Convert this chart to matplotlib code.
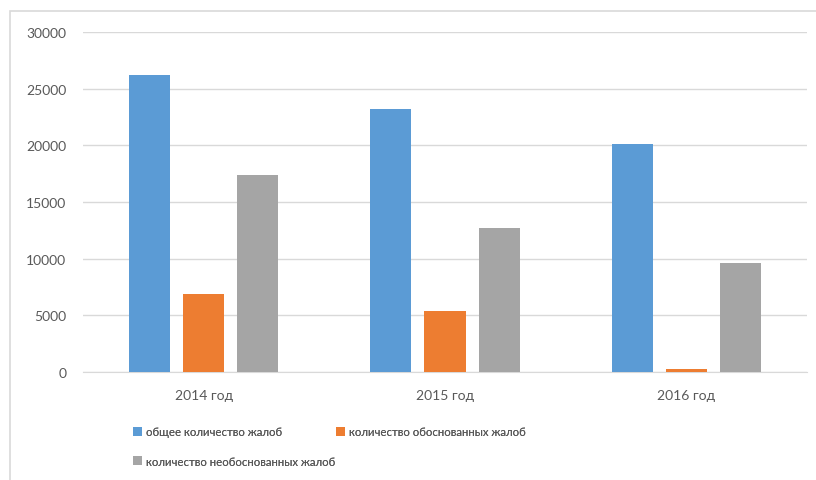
import numpy as np
import matplotlib.pyplot as plt
from matplotlib.patches import Rectangle

plt.rcParams['font.family'] = ['Lato', 'DejaVu Sans']

years = ['2014 год', '2015 год', '2016 год']
series_names = ['общее количество жалоб',
                'количество обоснованных жалоб',
                'количество необоснованных жалоб']
total = [26200, 23200, 20100]
grounded = [6900, 5400, 300]
ungrounded = [17400, 12700, 9600]
colors = ['#5b9bd5', '#ed7d31', '#a5a5a5']
yticks = [0, 5000, 10000, 15000, 20000, 25000, 30000]

fig = plt.figure(figsize=(8.16, 4.81), dpi=100)
ax = fig.add_axes([83 / 816, 1 - 373 / 481, 724 / 816, 340 / 481])

# outer chart border (top and left visible)
fig.patches.append(Rectangle((10 / 816, -0.1), 1.2, 1 - 12 / 481 + 0.1,
                             transform=fig.transFigure, fill=False,
                             edgecolor='#d9d9d9', linewidth=1.2))

x = np.arange(len(years))
width = 0.17
step = 0.224
for i, (vals, c) in enumerate(zip([total, grounded, ungrounded], colors)):
    ax.bar(x + (i - 1) * step, vals, width, color=c, label=series_names[i], zorder=3)

ax.set_xlim(-0.5, 2.5)
ax.set_ylim(0, 30000)
ax.set_yticks(yticks)
ax.set_xticks(x)
ax.set_xticklabels(years)
ax.grid(axis='y', color='#d9d9d9', linewidth=1, zorder=0)
for s in ['top', 'right', 'left']:
    ax.spines[s].set_visible(False)
ax.spines['bottom'].set_color('#d9d9d9')
ax.tick_params(axis='both', length=0, colors='#595959', labelsize=10)
ax.tick_params(axis='y', pad=12)
ax.tick_params(axis='x', pad=12)

# legend entries placed one by one: two on the first row, one below
handles, labels = ax.get_legend_handles_labels()
spots = [(133, 433), (336, 433), (133, 462)]
for h, lab, (px, py) in zip(handles, labels, spots):
    leg = fig.legend([h], [lab], loc='center left',
                     bbox_to_anchor=(px / 816, 1 - py / 481),
                     frameon=False, fontsize=8.2, handlelength=0.75, handleheight=0.75,
                     handletextpad=0.35, borderpad=0, borderaxespad=0,
                     labelcolor='#595959')
    fig.add_artist(leg)

fig.savefig('out.png', dpi=100)
